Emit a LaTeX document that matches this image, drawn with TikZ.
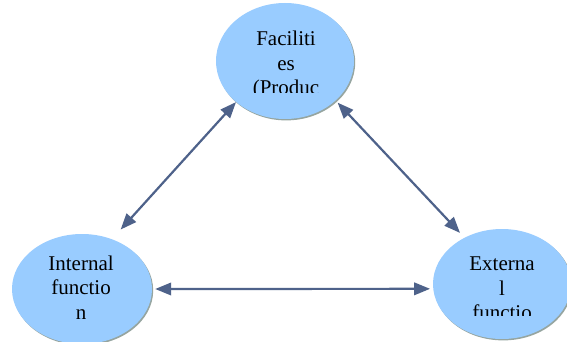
\documentclass[tikz,border=0pt]{standalone}
\usepackage{fontspec}
\setmainfont{Liberation Serif}
\usetikzlibrary{shapes.geometric,arrows.meta,calc}
\definecolor{bubble}{RGB}{153,204,255}
\definecolor{bubbleshadow}{RGB}{150,165,160}
\definecolor{arrowc}{RGB}{78,98,138}
\tikzset{
  bubblenode/.style={ellipse, fill=bubble, draw=none, inner sep=0pt},
  shadownode/.style={ellipse, fill=bubbleshadow, draw=none, inner sep=0pt},
  biarrow/.style={draw=arrowc, line width=2.2pt, {Triangle[length=16pt,width=12.5pt]}-{Triangle[length=16pt,width=12.5pt]}},
  bubbletext/.style={align=center, inner sep=0pt, anchor=base, font=\fontsize{21}{24.5}\selectfont}
}
\begin{document}
\begin{tikzpicture}[x=1pt,y=-1pt]
\useasboundingbox[fill=white] (0,0) rectangle (567,342);
% shadows
\node[shadownode, minimum width=138pt, minimum height=116pt] (Fs) at (286.2,62.4) {};
\node[shadownode, minimum width=140pt, minimum height=110pt] (Is) at (83.2,290.4) {};
\node[shadownode, minimum width=138pt, minimum height=110pt] (Es) at (503.2,285.4) {};
% bubbles
\node[bubblenode, minimum width=138pt, minimum height=116pt] (F) at (285,61) {};
\node[bubblenode, minimum width=140pt, minimum height=110pt] (I) at (82,289) {};
\node[bubblenode, minimum width=138pt, minimum height=110pt] (E) at (502,284) {};
% connectors
\draw[biarrow] ($(I.59.5)!12.9pt!(F.220.5)$) -- (F.220.5);
\draw[biarrow] ($(F.322.3)!2.8pt!(E.129.5)$) -- ($(E.129.5)!6.5pt!(F.322.3)$);
\draw[biarrow] ($(I.0)!3pt!(E.184)$) -- ($(E.184)!3pt!(I.0)$);
% texts (clipped as in the picture)
\begin{scope}
\clip (200,0) rectangle (370,92.7);
\node[bubbletext] (Ft) at (286,95) {Faciliti\\es\\(Produc};
\end{scope}
\begin{scope}
\clip (10,240) rectangle (160,322);
\node[bubbletext] (It) at (81,319) {Internal\\functio\\n};
\end{scope}
\begin{scope}
\clip (430,240) rectangle (567,315.7);
\node[bubbletext] (Et) at (502,319.7) {Externa\\l\\functio};
\end{scope}
\end{tikzpicture}
\end{document}
